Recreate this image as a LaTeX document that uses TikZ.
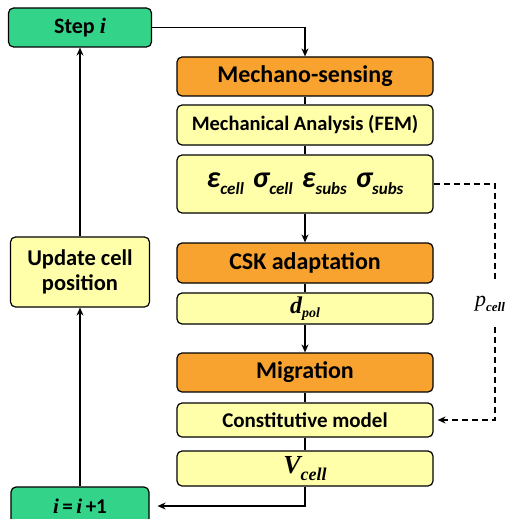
\documentclass[tikz,border=0pt]{standalone}
\usepackage{fontspec}
\setmainfont{Carlito}
\newfontfamily\timesfont{Liberation Serif}
\usepackage{tikz}
\usetikzlibrary{arrows.meta,positioning,calc}
\usepackage{xcolor}

\definecolor{stepgreen}{RGB}{52,211,138}
\definecolor{phaseorange}{RGB}{248,163,48}
\definecolor{infoyellow}{RGB}{255,255,170}

\newcommand{\tvar}[1]{{\timesfont\bfseries\itshape #1}}
\newcommand{\gsym}[2]{{\bfseries\itshape #1}\raisebox{-0.5ex}{\fontsize{17}{17}\selectfont\bfseries\itshape #2}}

\begin{document}
\begin{tikzpicture}[x=1pt,y=-1pt,
    box/.style={draw=black,line width=1.2pt,rounded corners=5pt,inner sep=0pt,
      align=center,font=\bfseries\fontsize{24}{26}\selectfont},
    greenbox/.style={box,fill=stepgreen},
    orangebox/.style={box,fill=phaseorange,minimum width=256pt,minimum height=39pt},
    yellowbox/.style={box,fill=infoyellow,minimum width=256pt},
    flow/.style={line width=1.1pt,-{Stealth[length=8pt,width=7pt]}},
    link/.style={line width=1.1pt}]
  \useasboundingbox (0,0) rectangle (509,519);

  % Zeitschritt links
  \node[greenbox,minimum width=143pt,minimum height=39pt,font=\bfseries\fontsize{22}{24}\selectfont]
    (step) at (80,27.5) {Step \tvar{i}};
  \node[box,fill=infoyellow,minimum width=139pt,minimum height=70pt,font=\bfseries\fontsize{22.5}{25}\selectfont]
    (update) at (80,272) {Update cell\\position};
  \node[greenbox,minimum width=138pt,minimum height=38pt,font=\bfseries\fontsize{21}{23}\selectfont]
    (incr) at (80,506) {\tvar{i}\,=\,\tvar{i}\,+1};

  % Mechano-sensing
  \node[orangebox] (sense) at (305,76.5) {Mechano-sensing};
  \node[yellowbox,minimum height=40pt,font=\bfseries\fontsize{20.5}{22}\selectfont]
    (fem) at (305,125) {Mechanical Analysis (FEM)};
  \node[yellowbox,minimum height=58pt,font=\bfseries\fontsize{30}{32}\selectfont] (strain) at (305,184)
    {\gsym{ε}{cell}\hspace{0.3em}\gsym{σ}{cell}\hspace{0.3em}\gsym{ε}{subs}\hspace{0.3em}\gsym{σ}{subs}};

  % CSK adaptation
  \node[orangebox,minimum height=40pt] (csk) at (305,263) {CSK adaptation};
  \node[yellowbox,minimum height=31pt] (dpol) at (305,308.5)
    {\tvar{d}\raisebox{-0.4ex}{\timesfont\itshape\fontsize{14}{14}\selectfont pol}};

  % Migration
  \node[orangebox] (migr) at (305,372.5) {Migration};
  \node[yellowbox,minimum height=34pt,font=\bfseries\fontsize{21}{22}\selectfont]
    (const) at (305,420) {Constitutive model};
  \node[yellowbox,minimum height=35pt,font=\bfseries\fontsize{26}{28}\selectfont] (vcell) at (305,468.5)
    {\tvar{V}\raisebox{-0.5ex}{\timesfont\itshape\fontsize{18}{18}\selectfont cell}};

  % Pfeile der Schleife
  \draw[flow] (step.east) -| (sense.north);
  \draw[link] (sense.south) -- (fem.north);
  \draw[link] (fem.south) -- (strain.north);
  \draw[flow] (strain.south) -- (csk.north);
  \draw[link] (csk.south) -- (dpol.north);
  \draw[flow] (dpol.south) -- (migr.north);
  \draw[link] (migr.south) -- (const.north);
  \draw[link] (const.south) -- (vcell.north);
  \draw[flow,shorten >=8pt] (vcell.south) |- (incr.east);
  \draw[flow] (incr.north) -- (update.south);
  \draw[flow] (update.north) -- (step.south);

  % Rueckkopplung p_cell
  \node (pcell) at (490,304)
    {\timesfont\fontsize{22}{24}\selectfont\itshape p\raisebox{-0.5ex}{\bfseries\fontsize{13}{13}\selectfont cell}};
  \coordinate (dtop) at (495,282);
  \coordinate (dbot) at (495,327);
  \draw[link,dash pattern=on 6pt off 4pt] (strain.east) -| (dtop);
  \draw[flow,dash pattern=on 6pt off 4pt,shorten >=4pt] (dbot) |- (const.east);
\end{tikzpicture}
\end{document}
